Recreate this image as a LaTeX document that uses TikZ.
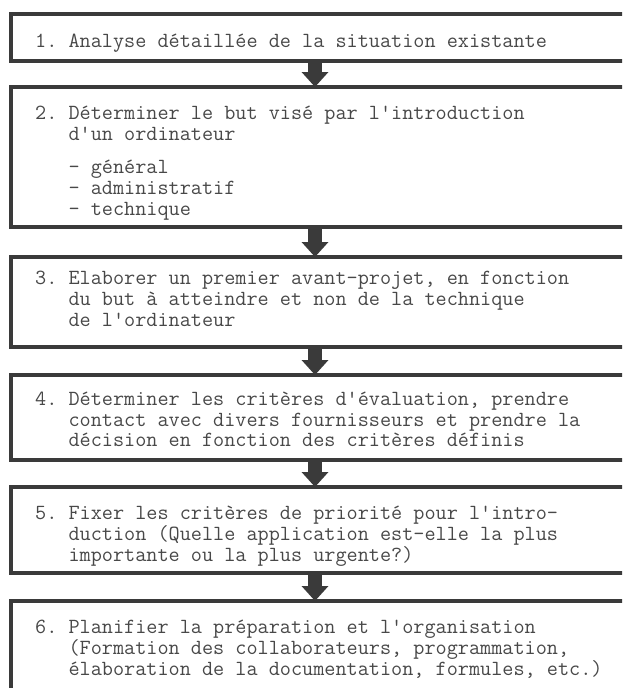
\documentclass[tikz,border=0pt]{standalone}
\usetikzlibrary{arrows.meta}
\definecolor{ink}{HTML}{3A3A3A}
\definecolor{txt}{HTML}{484848}
\tikzset{
  stepbox/.style={draw=ink, line width=3.2pt, anchor=north west, inner sep=0pt, outer sep=0pt, minimum width=640pt},
  steptext/.style={anchor=north west, inner sep=0pt, align=left, text=txt,
    font=\ttfamily\fontsize{21.6pt}{20.8pt}\selectfont\frenchspacing},
  flow/.style={draw=ink, line width=14pt, -{Triangle[width=26pt,length=15pt]}}
}
\newcommand\ind{\hphantom{0.\ }}
\newcommand\fl{\rule{0pt}{16pt}}
\frenchspacing
\begin{document}
\begin{tikzpicture}[x=1pt,y=-1pt]
\useasboundingbox (0,0) rectangle (622,688);
\clip (0,0) rectangle (622,688);
\coordinate (axis) at (315,0);
% boxes
\node[stepbox, minimum height=47pt]  (b1) at (11,14)  {};
\node[stepbox, minimum height=140pt] (b2) at (11,87)  {};
\node[stepbox, minimum height=90pt]  (b3) at (11,257) {};
\node[stepbox, minimum height=85pt]  (b4) at (11,375) {};
\node[stepbox, minimum height=86pt]  (b5) at (11,487) {};
\node[stepbox, minimum height=120pt] (b6) at (11,601) {};
% texts
\node[steptext] (t1) at (35,31.5) {\fl 1. Analyse détaillée de la situation existante};
\node[steptext] (t2) at (35,103.5) {\fl 2. Déterminer le but visé par l'introduction\\
\ind d'un ordinateur\\[12.4pt]
\ind - général\\
\ind - administratif\\
\ind - technique};
\node[steptext] (t3) at (35,268.5) {\fl 3. Elaborer un premier avant-projet, en fonction\\
\ind du but à atteindre et non de la technique\\
\ind de l'ordinateur};
\node[steptext] (t4) at (35,389) {\fl 4. Déterminer les critères d'évaluation, prendre\\
\ind contact avec divers fournisseurs et prendre la\\
\ind décision en fonction des critères définis};
\node[steptext] (t5) at (35,503.5) {\fl 5. Fixer les critères de priorité pour l'intro-\\
\ind duction (Quelle application est-elle la plus\\
\ind importante ou la plus urgente?)};
\node[steptext] (t6) at (35,617.5) {\fl 6. Planifier la préparation et l'organisation\\
\ind (Formation des collaborateurs, programmation,\\
\ind élaboration de la documentation, formules, etc.)};
% arrows
\draw[flow] (b1.south -| axis) -- (b2.north -| axis);
\draw[flow] (b2.south -| axis) -- (b3.north -| axis);
\draw[flow] (b3.south -| axis) -- (b4.north -| axis);
\draw[flow] (b4.south -| axis) -- (b5.north -| axis);
\draw[flow] (b5.south -| axis) -- (b6.north -| axis);
\end{tikzpicture}
\end{document}
